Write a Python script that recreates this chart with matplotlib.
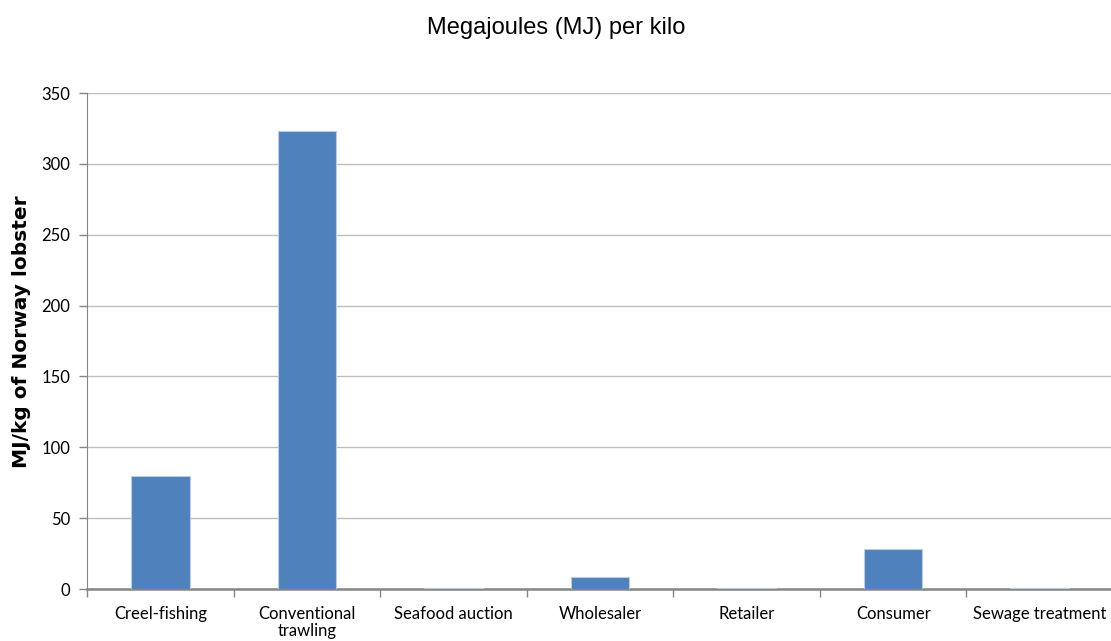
import matplotlib.pyplot as plt
import numpy as np

# Energy use per kilo along the Norway lobster chain
stages = ['Creel-fishing', 'Conventional\ntrawling', 'Seafood auction',
          'Wholesaler', 'Retailer', 'Consumer', 'Sewage treatment']
mj_per_kg = [80, 323.5, 0.8, 8.2, 0.7, 28.5, 0.7]

BAR = '#4F81BD'
AXIS = '#868686'
GRID = '#BFBFBF'
SANS = ['Lato', 'DejaVu Sans']

fig = plt.figure(figsize=(11.11, 6.41), dpi=100)
ax = fig.add_axes([87 / 1111, 52 / 641, 1026 / 1111, 496 / 641])

x = np.arange(len(stages))
ax.bar(x, mj_per_kg, width=0.4, color=BAR, edgecolor='#B9CDE5', linewidth=0.8, zorder=3)

ax.set_xlim(-0.5, len(stages) - 0.5)
ax.set_ylim(0, 350)
ax.set_yticks(np.arange(0, 351, 50))
ax.yaxis.grid(True, color=GRID, lw=1, zorder=0)

# category boundary ticks on the x axis, labels centered under bars
ax.set_xticks(np.arange(-0.5, len(stages), 1))
ax.set_xticklabels([])
ax.set_xticks(x, minor=True)
ax.set_xticklabels(stages, minor=True, fontsize=12, family=SANS, linespacing=1.1)
ax.tick_params(axis='x', which='minor', length=0, pad=12)
ax.tick_params(axis='x', which='major', length=6, color=AXIS, width=1)
ax.tick_params(axis='y', length=6, color=AXIS, width=1, labelsize=12, pad=6)
for lab in ax.get_yticklabels():
    lab.set_family(SANS)

for side in ['top', 'right']:
    ax.spines[side].set_visible(False)
ax.spines['left'].set_color(AXIS)
ax.spines['bottom'].set_color(AXIS)
ax.spines['bottom'].set_linewidth(1.8)

fig.text(22 / 1111, 1 - 332 / 641, 'MJ/kg of Norway lobster', rotation=90,
         ha='center', va='center', fontsize=14.5, fontweight='bold', family='DejaVu Sans')
fig.text(556 / 1111, 1 - 28 / 641, 'Megajoules (MJ) per kilo', ha='center', va='center',
         fontsize=17, family=['Liberation Sans', 'DejaVu Sans'])

plt.savefig('out.png', dpi=100)
